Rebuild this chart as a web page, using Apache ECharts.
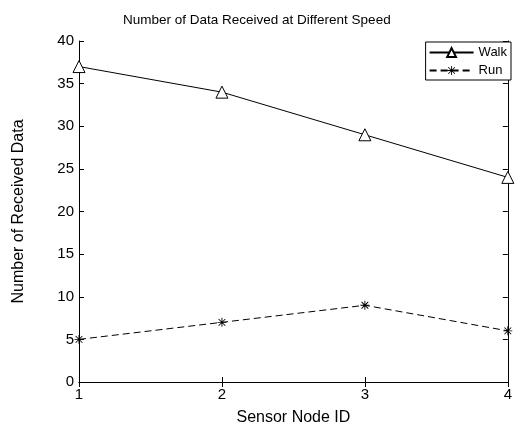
<!DOCTYPE html>
<html>
<head>
<meta charset="utf-8">
<script src="https://cdn.jsdelivr.net/npm/echarts@6/dist/echarts.min.js"></script>
<style>
  html, body { margin: 0; padding: 0; background: #fff; }
  #chart { width: 515px; height: 431px; }
</style>
</head>
<body>
<div id="chart"></div>
<script>
// data
var nodeIds = [1, 2, 3, 4];
var walk = [37, 34, 29, 24];
var run = [5, 7, 9, 6];

var font = 'Liberation Sans, Arial, sans-serif';
// asterisk marker (plus + x)
var star = 'path://M4.5 0h1v10h-1Z M0 4.5h10v1h-10Z M0.9 1.6L1.6 0.9L9.1 8.4L8.4 9.1Z M8.4 0.9L9.1 1.6L1.6 9.1L0.9 8.4Z';

var chart = echarts.init(document.getElementById('chart'));

var axisBase = {
  axisLine: { show: true, lineStyle: { color: '#000', width: 1 } },
  axisTick: { show: true, inside: true, length: 5, lineStyle: { color: '#000' } },
  splitLine: { show: false }
};

var option = {
  backgroundColor: '#fff',
  animation: false,
  title: {
    text: 'Number of Data Received at Different Speed',
    left: 118,
    top: 8,
    textStyle: { fontFamily: font, fontSize: 13.5, fontWeight: 'normal', color: '#000' }
  },
  legend: {
    right: 4,
    top: 42,
    orient: 'vertical',
    itemGap: 5,
    itemWidth: 44,
    itemHeight: 11,
    padding: [4, 4, 3, 3],
    borderColor: '#000',
    borderWidth: 1,
    backgroundColor: '#fff',
    textStyle: { fontFamily: font, fontSize: 13, color: '#000', padding: [0, 0, 0, 0] },
    data: ['Walk', 'Run']
  },
  grid: { left: 79, right: 3, top: 41, bottom: 48 },
  xAxis: [
    Object.assign({
      type: 'value', min: 1, max: 4, interval: 1,
      name: 'Sensor Node ID', nameLocation: 'middle', nameGap: 28,
      nameTextStyle: { fontFamily: font, fontSize: 16, color: '#000' },
      axisLabel: { fontFamily: font, fontSize: 15, color: '#000', margin: 5 }
    }, axisBase),
    Object.assign({
      type: 'value', min: 1, max: 4, interval: 1, position: 'top',
      axisLabel: { show: false }
    }, axisBase)
  ],
  yAxis: [
    Object.assign({
      type: 'value', min: 0, max: 40, interval: 5,
      name: 'Number of Received Data', nameLocation: 'middle', nameGap: 52,
      nameTextStyle: { fontFamily: font, fontSize: 16, color: '#000' },
      axisLabel: { fontFamily: font, fontSize: 15, color: '#000', margin: 5 }
    }, axisBase),
    Object.assign({
      type: 'value', min: 0, max: 40, interval: 5, position: 'right',
      axisLabel: { show: false }
    }, axisBase)
  ],
  series: [
    {
      name: 'Walk',
      type: 'line',
      data: nodeIds.map(function (x, i) { return [x, walk[i]]; }),
      symbol: 'triangle',
      symbolSize: 12,
      lineStyle: { color: '#000', width: 1 },
      itemStyle: { color: '#fff', borderColor: '#000', borderWidth: 1 }
    },
    {
      name: 'Run',
      type: 'line',
      data: nodeIds.map(function (x, i) { return [x, run[i]]; }),
      symbol: star,
      symbolSize: 9,
      lineStyle: { color: '#000', width: 1, type: [7, 4] },
      itemStyle: { color: '#000' }
    }
  ]
};

chart.setOption(option);
</script>
</body>
</html>
